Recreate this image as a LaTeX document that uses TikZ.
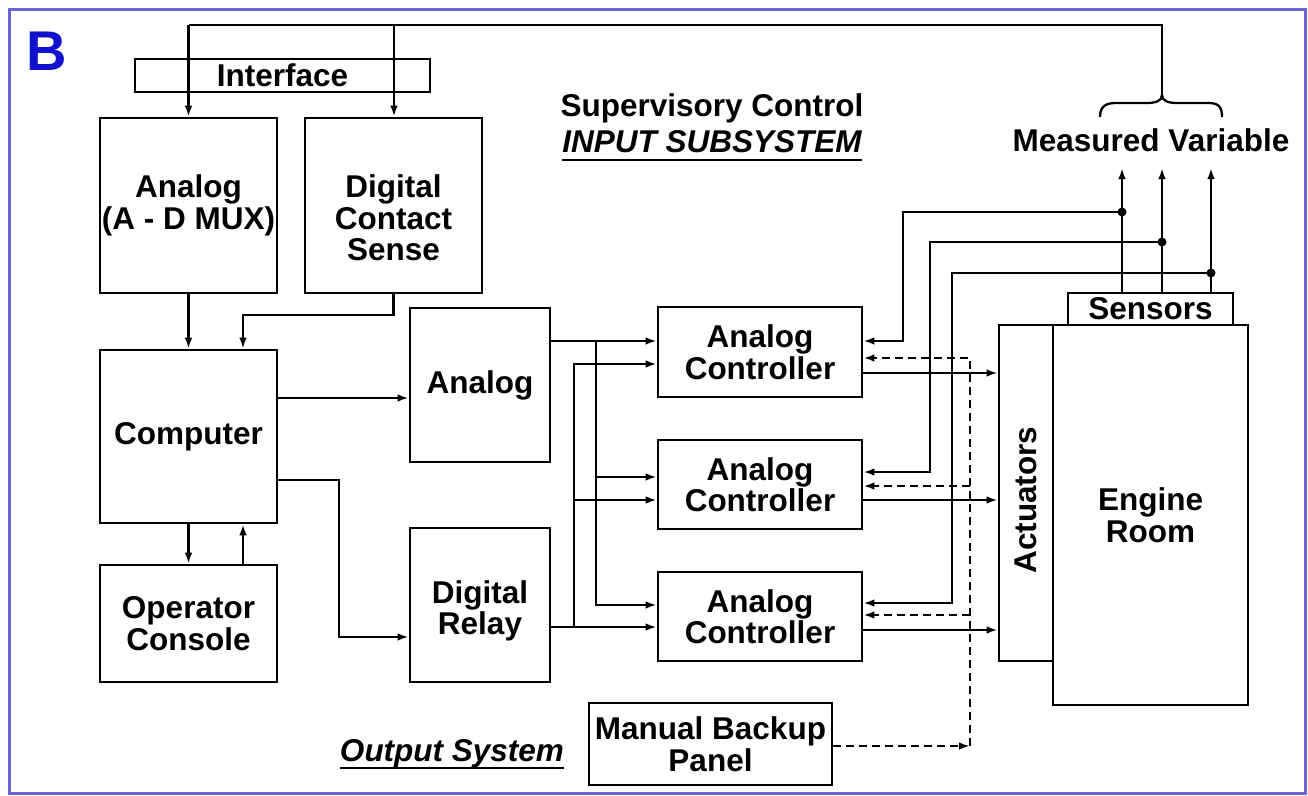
\documentclass[tikz,border=0pt]{standalone}
\usepackage{fontspec}
\setmainfont{Liberation Sans}
\usetikzlibrary{arrows.meta,calc}
\definecolor{framec}{RGB}{104,104,214}
\definecolor{bblue}{RGB}{18,18,205}
\newcommand{\mainf}{\fontsize{31.5}{31.5}\selectfont\bfseries}
\newcommand{\myul}[1]{\leavevmode\setbox0=\hbox{#1}\rlap{\raisebox{-8pt}{\rule{\wd0}{2.5pt}}}\box0}
\begin{document}
\begin{tikzpicture}[x=1pt,y=-1pt,
  box/.style={draw,line width=2.6pt,inner sep=0pt,align=center,font=\mainf},
  txt/.style={inner sep=0pt,align=center,font=\mainf},
  ln/.style={line width=2.3pt},
  arr/.style={line width=2.3pt,-{Latex[length=11pt,width=7.5pt]}},
  darr/.style={line width=2.3pt,dash pattern=on 8pt off 5pt,-{Latex[length=11pt,width=7.5pt]}},
  dln/.style={line width=2.3pt,dash pattern=on 8pt off 5pt}]
\useasboundingbox (0,0) rectangle (1308,795);
\fill[white] (0,0) rectangle (1308,795);
\draw[framec,line width=3pt] (9,9) rectangle (1305,793);

\node[txt,text=bblue,font=\fontsize{56}{56}\selectfont\bfseries] (B) at (47,51) {B};

% boxes
\node[box,minimum width=295,minimum height=33] (iface) at (282.5,75.5) {Interface};
\node[box,minimum width=177,minimum height=175] (adc) at (188.5,205.5) {Analog\\(A - D MUX)};
\node[box,minimum width=177,minimum height=175] (dcs) at (393.5,205.5) {};
\node[txt] (dcst) at (393.5,218) {Digital\\Contact\\Sense};
\node[box,minimum width=177,minimum height=173] (comp) at (188.5,436.5) {Computer};
\node[box,minimum width=177,minimum height=117] (opc) at (188.5,623.5) {Operator\\Console};
\node[box,minimum width=140,minimum height=154] (ana) at (480,385) {Analog};
\node[box,minimum width=140,minimum height=154] (dr) at (480,605) {};
\node[txt] (drt) at (480,611) {Digital\\Relay};
\node[box,minimum width=204,minimum height=90] (c1) at (760,352) {Analog\\Controller};
\node[box,minimum width=204,minimum height=89] (c2) at (760,484.5) {Analog\\Controller};
\node[box,minimum width=204,minimum height=89] (c3) at (760,616.5) {Analog\\Controller};
\node[box,minimum width=243,minimum height=82] (mbp) at (710.5,744) {Manual Backup\\Panel};
\node[box,minimum width=165,minimum height=32] (sens) at (1150.5,309) {Sensors};
\node[box,minimum width=54,minimum height=336] (act) at (1026,493) {};
\node[txt,rotate=90] (actt) at (1026,500) {Actuators};
\node[box,minimum width=195,minimum height=380] (eng) at (1150.5,515) {Engine\\Room};

% labels
\node[txt] (sup1) at (712,108) {Supervisory Control};
\node[txt] (sup2) at (712,146) {\itshape\myul{INPUT SUBSYSTEM}};
\node[txt] (mv) at (1151,140) {Measured Variable};
\node[txt] (outs) at (452,754) {\itshape\myul{Output System}};

% top bus and brace
\coordinate (brtip) at (1162,95);
\coordinate (tl) at (188.5,25);
\coordinate (tm) at (394,25);
\coordinate (tr) at (1162,25);
\draw[ln] (brtip) -- (tr) -- (tl);
\draw[arr] (tl) -- (tl |- adc.north);
\draw[arr] (tm) -- (tm |- dcs.north);
\draw[ln] (1100,117) .. controls (1100,106) and (1106,103) .. (1116,103) -- (1146,103)
  .. controls (1156,103) and (1162,101) .. (brtip)
  .. controls (1162,101) and (1168,103) .. (1178,103) -- (1208,103)
  .. controls (1218,103) and (1222,106) .. (1222,117);

% left column
\coordinate (j1) at (243,315);
\draw[arr] (adc.south) -- (comp.north);
\draw[arr] (dcs.south) |- (j1) -- (j1 |- comp.north);
\draw[arr] (comp.south) -- (opc.north);
\draw[arr] (opc.north -| j1) -- (comp.south -| j1);

% computer outputs
\coordinate (y398) at (0,398);
\draw[arr] (comp.east |- y398) -- (ana.west |- y398);
\coordinate (cd1) at (339,480);
\coordinate (cd2) at (339,637);
\draw[arr] (comp.east |- cd1) -- (cd1) -- (cd2) -- (dr.west |- cd2);

% distribution bus
\coordinate (bA) at (596,341);
\coordinate (bA2) at (596,477);
\coordinate (bA3) at (596,605);
\draw[arr] (ana.east |- bA) -- (c1.west |- bA);
\draw[arr] (bA) -- (bA3) -- (c3.west |- bA3);
\draw[arr] (bA2) -- (c2.west |- bA2);
\coordinate (dB) at (574,627);
\coordinate (dB1) at (574,364);
\coordinate (dB2) at (574,500);
\draw[arr] (dr.east |- dB) -- (c3.west |- dB);
\draw[arr] (dB) -- (dB1) -- (c1.west |- dB1);
\draw[arr] (dB2) -- (c2.west |- dB2);

% controller outputs
\coordinate (o1) at (0,373);
\coordinate (o2) at (0,500);
\coordinate (o3) at (0,630);
\draw[arr] (c1.east |- o1) -- (act.west |- o1);
\draw[arr] (c2.east |- o2) -- (act.west |- o2);
\draw[arr] (c3.east |- o3) -- (act.west |- o3);

% sensor feedback
\coordinate (s1) at (1122,212);
\coordinate (s2) at (1162,242);
\coordinate (s3) at (1211,273);
\coordinate (m1) at (1122,168);
\coordinate (m2) at (1162,168);
\coordinate (m3) at (1211,168);
\draw[arr] (sens.north -| s1) -- (m1);
\draw[arr] (sens.north -| s2) -- (m2);
\draw[arr] (sens.north -| s3) -- (m3);
\coordinate (f1) at (903,212);
\coordinate (f1b) at (903,341);
\coordinate (f2) at (930,242);
\coordinate (f2b) at (930,472);
\coordinate (f3) at (952,273);
\coordinate (f3b) at (952,603);
\draw[arr] (s1) -- (f1) -- (f1b) -- (c1.east |- f1b);
\draw[arr] (s2) -- (f2) -- (f2b) -- (c2.east |- f2b);
\draw[arr] (s3) -- (f3) -- (f3b) -- (c3.east |- f3b);
\fill (s1) circle (4.5);
\fill (s2) circle (4.5);
\fill (s3) circle (4.5);

% manual backup (dashed)
\coordinate (d0) at (970,746);
\coordinate (d1) at (970,358);
\coordinate (d2) at (970,486);
\coordinate (d3) at (970,615);
\draw[darr] (mbp.east |- d0) -- (d0);
\draw[darr] (d0) -- (d1) -- (c1.east |- d1);
\draw[darr] (d2) -- (c2.east |- d2);
\draw[darr] (d3) -- (c3.east |- d3);
\end{tikzpicture}
\end{document}
